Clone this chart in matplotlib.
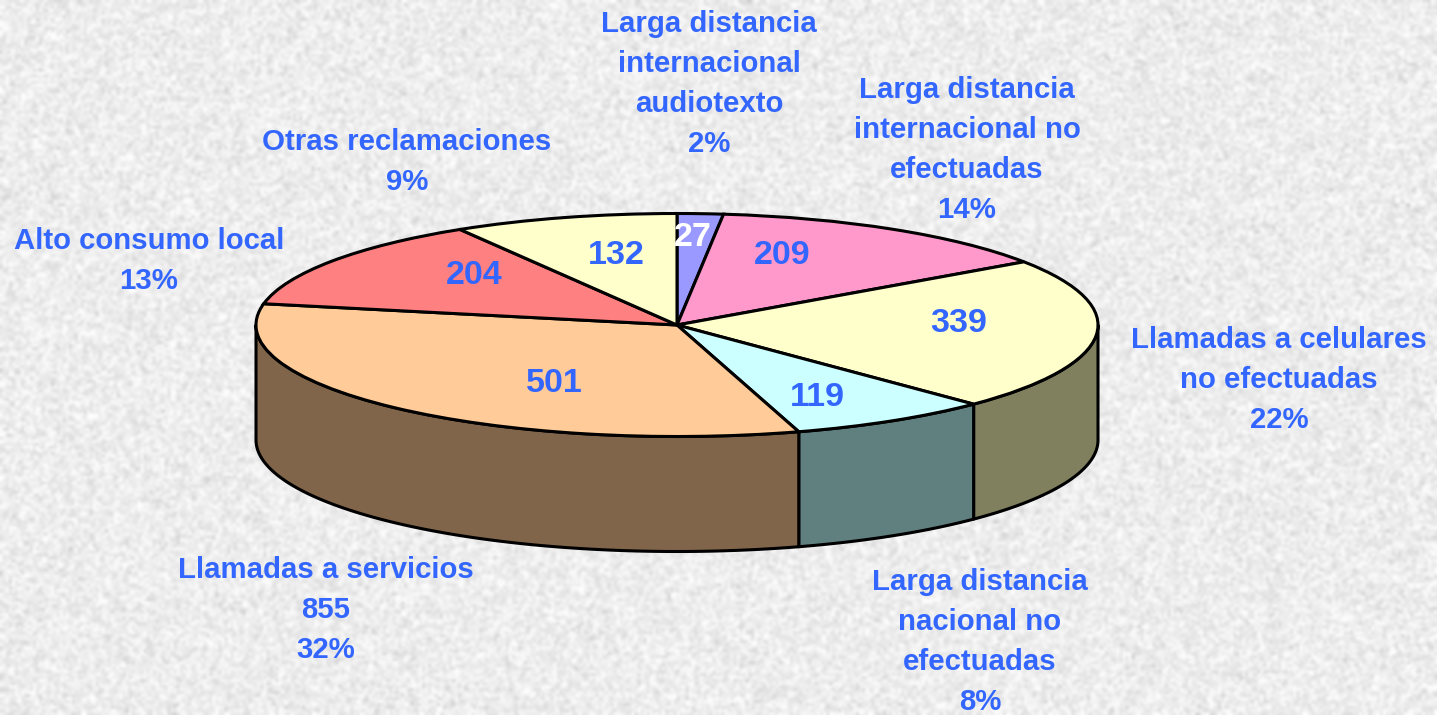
import numpy as np
import matplotlib
matplotlib.use('Agg')
import matplotlib.pyplot as plt

# ==============================
# Data (clockwise from the top)
# ==============================
values = [27, 209, 339, 119, 501, 204, 132]
top_colors = ['#9999FF', '#FF99CC', '#FFFFCC', '#CCFFFF', '#FFCC99', '#FF8080', '#FFFFCC']
side_colors = ['#4D4D80', '#804D66', '#80805F', '#608080', '#80654A', '#804040', '#808066']

outer_labels = [
    'Larga distancia\ninternacional\naudiotexto\n2%',
    'Larga distancia\ninternacional no\nefectuadas\n14%',
    'Llamadas a celulares\nno efectuadas\n22%',
    'Larga distancia\nnacional no\nefectuadas\n8%',
    'Llamadas a servicios\n855\n32%',
    'Alto consumo local\n13%',
    'Otras reclamaciones\n9%',
]

W, H = 1437, 715
CX, CY = 677, 325
RX, RY = 421, 111.5
DEPTH = 115 / RY
BLUE = '#3366FF'

outer_pos = [(709, 84), (967, 150), (1279, 380), (980, 642), (326, 610), (149, 261), (407, 162)]
value_pos = [(693, 237), (782, 255), (959, 323), (817, 397), (554, 384), (474, 275), (616, 255)]
value_colors = ['white', BLUE, BLUE, BLUE, BLUE, BLUE, BLUE]

plt.rcParams['font.family'] = ['Liberation Sans', 'DejaVu Sans']

fig = plt.figure(figsize=(W / 100, H / 100), dpi=100)

# background texture only, not chart data
rng = np.random.default_rng(7)
noise = rng.normal(0.93, 0.045, (H // 3 + 1, W // 3 + 1))
bg = fig.add_axes([0, 0, 1, 1], zorder=0)
bg.imshow(noise, cmap='gray', vmin=0, vmax=1, aspect='auto', interpolation='bicubic')
bg.axis('off')

# axes scaled so a unit pie comes out as the flattened ellipse
ax = fig.add_axes([0, 0, 1, 1], zorder=1)
ax.patch.set_alpha(0)

# side wall, only the front half (90..270 deg clockwise from the top) shows
edges = np.cumsum([0] + values) / sum(values) * 360
for i in range(len(values)):
    a0, a1 = max(edges[i], 90), min(edges[i + 1], 270)
    if a1 <= a0:
        continue
    t = np.radians(np.linspace(a0, a1, 120))
    x, y = np.sin(t), np.cos(t)
    ax.fill(np.r_[x, x[::-1]], np.r_[y, y[::-1] - DEPTH], facecolor=side_colors[i],
            edgecolor='black', linewidth=2.2, joinstyle='round')

ax.pie(values, colors=top_colors, startangle=90, counterclock=False, radius=1,
       wedgeprops={'edgecolor': 'black', 'linewidth': 2.2}, frame=True)
ax.set_aspect('auto')
ax.set_xlim(-CX / RX, (W - CX) / RX)
ax.set_ylim(-(H - CY) / RY, CY / RY)
ax.axis('off')

for val, (px, py), col in zip(values, value_pos, value_colors):
    fig.text(px / W, 1 - py / H, str(val), color=col, fontsize=24.5, fontweight='bold',
             ha='center', va='center', zorder=5)

for lab, (px, py) in zip(outer_labels, outer_pos):
    fig.text(px / W, 1 - py / H, lab, color=BLUE, fontsize=21.2, fontweight='bold',
             ha='center', va='center', linespacing=1.55, zorder=5)

fig.savefig('out.png', dpi=100)
